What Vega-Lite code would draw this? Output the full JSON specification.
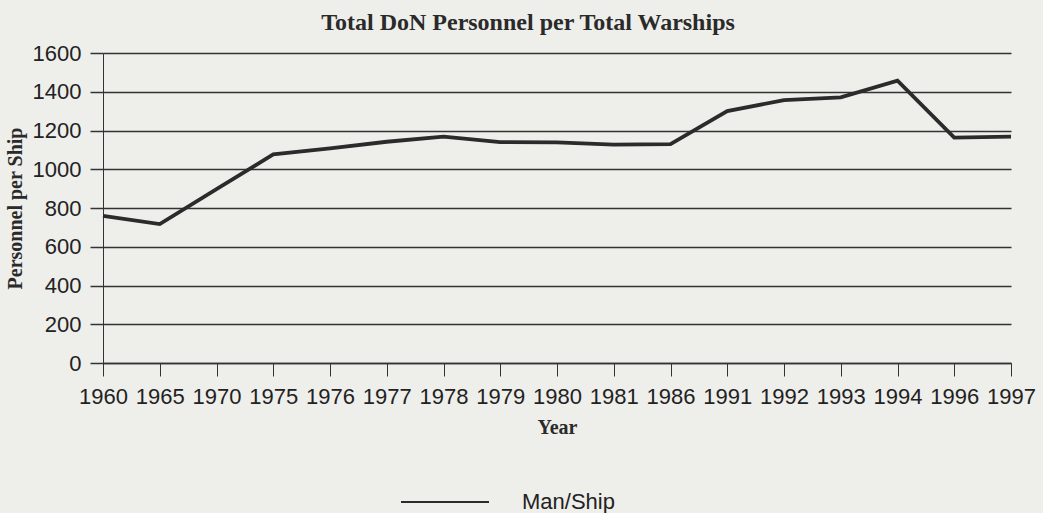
{
  "$schema": "https://vega.github.io/schema/vega-lite/v6.json",
  "width": 908,
  "height": 310,
  "autosize": {"type": "none"},
  "padding": {"left": 103, "top": 53, "right": 32, "bottom": 150},
  "background": "#eeeeea",
  "title": {
    "text": "Total DoN Personnel per Total Warships",
    "font": "Liberation Serif",
    "fontSize": 24,
    "fontWeight": "bold",
    "color": "#2a2a2a",
    "anchor": "middle",
    "dx": -29,
    "offset": 7
  },
  "data": {
    "values": [
      {"Year": "1960", "Value": 759, "Series": "Man/Ship"},
      {"Year": "1965", "Value": 717, "Series": "Man/Ship"},
      {"Year": "1970", "Value": 897, "Series": "Man/Ship"},
      {"Year": "1975", "Value": 1077, "Series": "Man/Ship"},
      {"Year": "1976", "Value": 1108, "Series": "Man/Ship"},
      {"Year": "1977", "Value": 1142, "Series": "Man/Ship"},
      {"Year": "1978", "Value": 1168, "Series": "Man/Ship"},
      {"Year": "1979", "Value": 1140, "Series": "Man/Ship"},
      {"Year": "1980", "Value": 1139, "Series": "Man/Ship"},
      {"Year": "1981", "Value": 1127, "Series": "Man/Ship"},
      {"Year": "1986", "Value": 1130, "Series": "Man/Ship"},
      {"Year": "1991", "Value": 1300, "Series": "Man/Ship"},
      {"Year": "1992", "Value": 1357, "Series": "Man/Ship"},
      {"Year": "1993", "Value": 1371, "Series": "Man/Ship"},
      {"Year": "1994", "Value": 1457, "Series": "Man/Ship"},
      {"Year": "1996", "Value": 1163, "Series": "Man/Ship"},
      {"Year": "1997", "Value": 1168, "Series": "Man/Ship"}
    ]
  },
  "mark": {"type": "line", "strokeWidth": 3.8, "strokeJoin": "miter"},
  "encoding": {
    "x": {
      "field": "Year",
      "type": "ordinal",
      "sort": null,
      "scale": {"type": "point", "padding": 0},
      "axis": {
        "title": "Year",
        "titleFont": "Liberation Serif",
        "titleFontSize": 20,
        "titleFontWeight": "bold",
        "titleColor": "#2a2a2a",
        "titlePadding": 10,
        "labelAngle": 0,
        "labelFont": "Liberation Sans",
        "labelFontSize": 22,
        "labelColor": "#222222",
        "labelPadding": 10,
        "tickSize": 13,
        "tickColor": "#333333",
        "tickWidth": 1,
        "domainColor": "#333333",
        "domainWidth": 1.5,
        "grid": false
      }
    },
    "y": {
      "field": "Value",
      "type": "quantitative",
      "scale": {"domain": [0, 1600]},
      "axis": {
        "title": "Personnel per Ship",
        "titleFont": "Liberation Serif",
        "titleFontSize": 20,
        "titleFontWeight": "bold",
        "titleColor": "#2a2a2a",
        "titlePadding": 7,
        "values": [0, 200, 400, 600, 800, 1000, 1200, 1400, 1600],
        "format": "d",
        "labelFont": "Liberation Sans",
        "labelFontSize": 22,
        "labelColor": "#222222",
        "labelPadding": 9,
        "tickSize": 13,
        "tickColor": "#333333",
        "tickWidth": 1.5,
        "domainColor": "#333333",
        "domainWidth": 1,
        "grid": true,
        "gridColor": "#333333",
        "gridWidth": 1.5,
        "gridOpacity": 1
      }
    },
    "color": {
      "field": "Series",
      "type": "nominal",
      "scale": {"range": ["#2b2b2b"]},
      "legend": {
        "title": null,
        "orient": "none",
        "legendX": 297,
        "legendY": 404,
        "direction": "horizontal",
        "symbolType": "stroke",
        "symbolSize": 7744,
        "symbolStrokeWidth": 2,
        "labelFont": "Liberation Sans",
        "labelFontSize": 22,
        "labelColor": "#222222",
        "labelOffset": 32
      }
    }
  },
  "config": {"view": {"stroke": null}}
}
